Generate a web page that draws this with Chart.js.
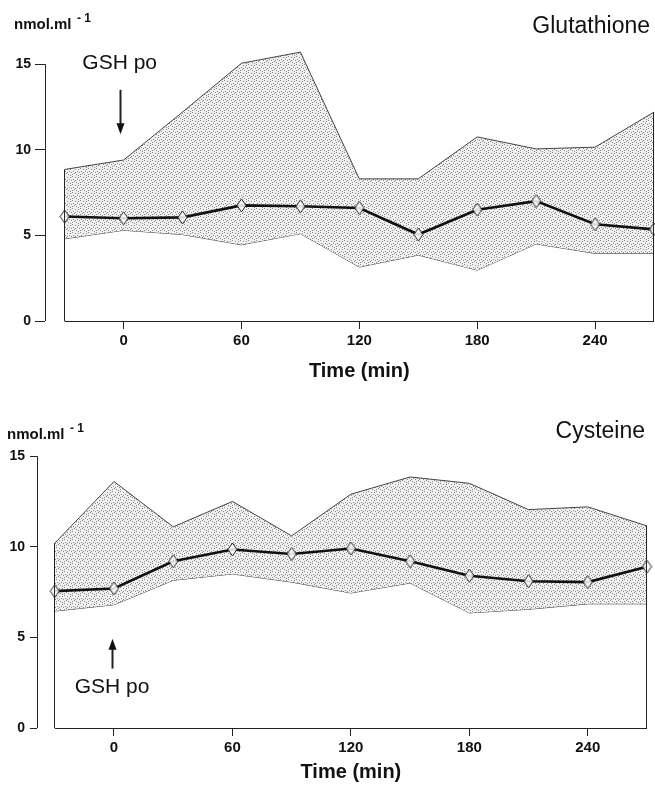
<!DOCTYPE html>
<html>
<head>
<meta charset="utf-8">
<script src="https://cdn.jsdelivr.net/npm/chart.js@4.4.1/dist/chart.umd.min.js"></script>
<style>
  html, body { margin: 0; padding: 0; background: #fff; }
  canvas { display: block; position: absolute; left: 0; }
  #gsh { top: 0; }
  #cys { top: 395px; }
</style>
</head>
<body>
<canvas id="gsh" width="655" height="395"></canvas>
<canvas id="cys" width="655" height="396"></canvas>
<script>
// time points (min) and axis ticks
const times = [-30, 0, 30, 60, 90, 120, 150, 180, 210, 240, 270];
const xTicks = [0, 60, 120, 180, 240];
const yTicks = [0, 5, 10, 15];

// glutathione, nmol/ml
const gshMean  = [6.1, 6.0, 6.05, 6.75, 6.7, 6.6, 5.05, 6.5, 7.0, 5.65, 5.35];
const gshUpper = [8.85, 9.4, 12.2, 15.05, 15.7, 8.3, 8.3, 10.75, 10.05, 10.15, 12.2];
const gshLower = [4.8, 5.3, 5.05, 4.45, 5.1, 3.15, 3.85, 2.97, 4.5, 3.95, 3.95];

// cysteine, nmol/ml
const cysMean  = [7.55, 7.7, 9.2, 9.85, 9.6, 9.9, 9.2, 8.4, 8.1, 8.05, 8.9];
const cysUpper = [10.2, 13.6, 11.1, 12.5, 10.6, 12.9, 13.85, 13.5, 12.05, 12.2, 11.15];
const cysLower = [6.45, 6.8, 8.15, 8.5, 8.05, 7.45, 8.0, 6.35, 6.55, 6.85, 6.85];

// stippled grey fill for the range band
function stipple() {
  const c = document.createElement('canvas');
  c.width = 8; c.height = 8;
  const g = c.getContext('2d');
  g.fillStyle = '#f1f1f1';
  g.fillRect(0, 0, 8, 8);
  g.fillStyle = '#8a8a8a';
  [[0,0],[3,1],[6,1],[1,3],[5,3],[7,4],[2,5],[4,6],[0,6],[6,7],[3,4]].forEach(([x, y]) => g.fillRect(x, y, 1, 1));
  return g.createPattern(c, 'repeat');
}

// narrow hollow diamond marker
function diamond() {
  const c = document.createElement('canvas');
  c.width = 11; c.height = 15;
  const g = c.getContext('2d');
  g.beginPath();
  g.moveTo(5.5, 1); g.lineTo(10, 7.5); g.lineTo(5.5, 14); g.lineTo(1, 7.5); g.closePath();
  g.fillStyle = 'rgba(255,255,255,0.85)';
  g.fill();
  g.strokeStyle = '#222';
  g.lineWidth = 1;
  g.stroke();
  return c;
}

const pts = arr => arr.map((v, i) => ({ x: times[i], y: v }));

// axis lines, band edges and the text around each panel
const panelPlugin = {
  id: 'panel',
  afterDraw(chart, args, o) {
    const { ctx, chartArea, scales: { x, y } } = chart;
    ctx.save();
    ctx.strokeStyle = '#222';
    ctx.lineWidth = 1;

    // y axis from 0 to 15 only
    ctx.beginPath();
    ctx.moveTo(chartArea.left + 0.5, y.getPixelForValue(yTicks[0]));
    ctx.lineTo(chartArea.left + 0.5, y.getPixelForValue(yTicks[yTicks.length - 1]));
    ctx.stroke();

    // x axis starts at the first time point
    const y0 = y.getPixelForValue(0);
    ctx.beginPath();
    ctx.moveTo(x.getPixelForValue(times[0]), y0 + 0.5);
    ctx.lineTo(chartArea.right, y0 + 0.5);
    ctx.stroke();

    // closing edges of the band
    const upper = chart.data.datasets[1].data;
    [0, upper.length - 1].forEach(i => {
      const px = Math.round(x.getPixelForValue(upper[i].x)) - 0.5;
      ctx.beginPath();
      ctx.moveTo(px, y.getPixelForValue(upper[i].y));
      ctx.lineTo(px, y0);
      ctx.stroke();
    });

    ctx.fillStyle = '#111';
    ctx.textBaseline = 'alphabetic';

    // unit label
    ctx.textAlign = 'left';
    ctx.font = 'bold 15px "Liberation Sans", Arial, sans-serif';
    ctx.fillText('nmol.ml', o.unit.x, o.unit.y);
    ctx.font = 'bold 12px "Liberation Sans", Arial, sans-serif';
    ctx.fillText('- 1', o.unit.x + 63, o.unit.y - 7);

    // panel title
    ctx.textAlign = 'right';
    ctx.font = '23px "Liberation Sans", Arial, sans-serif';
    ctx.fillText(o.title, o.titleRight, o.titleY);

    // dosing arrow
    const ax = Math.round(x.getPixelForValue(o.arrow.x)) + 0.5;
    const from = y.getPixelForValue(o.arrow.from);
    const to = y.getPixelForValue(o.arrow.to);
    const dir = Math.sign(to - from);
    ctx.lineWidth = 2;
    ctx.beginPath();
    ctx.moveTo(ax, from);
    ctx.lineTo(ax, to - dir * 8);
    ctx.stroke();
    ctx.beginPath();
    ctx.moveTo(ax, to);
    ctx.lineTo(ax - 4, to - dir * 11);
    ctx.lineTo(ax + 4, to - dir * 11);
    ctx.closePath();
    ctx.fill();

    ctx.textAlign = 'center';
    ctx.font = '21px "Liberation Sans", Arial, sans-serif';
    ctx.fillText('GSH po', x.getPixelForValue(o.arrow.labelX), y.getPixelForValue(o.arrow.labelY));

    // x axis title, centred on the drawn axis
    ctx.font = 'bold 20px "Liberation Sans", Arial, sans-serif';
    const cx = (x.getPixelForValue(times[0]) + chartArea.right) / 2;
    ctx.fillText('Time (min)', cx, o.xTitleY);
    ctx.restore();
  }
};

function makeChart(id, mean, upper, lower, opt) {
  const cfg = {
    type: 'line',
    data: {
      datasets: [
        { data: pts(mean), borderColor: '#111', borderWidth: 2.6, pointStyle: diamond(),
          pointRadius: 6, fill: false, clip: false },
        { data: pts(upper), borderColor: '#444', borderWidth: 1, pointRadius: 0,
          fill: '+1', backgroundColor: stipple(), clip: false },
        { data: pts(lower), borderColor: '#444', borderWidth: 1, pointRadius: 0,
          fill: false, clip: false }
      ]
    },
    options: {
      responsive: false,
      animation: false,
      layout: { padding: opt.padding, autoPadding: false },
      plugins: {
        legend: { display: false },
        tooltip: { enabled: false },
        panel: opt.panel
      },
      scales: {
        x: {
          type: 'linear',
          min: opt.xMin,
          max: 270,
          afterBuildTicks: s => { s.ticks = xTicks.map(v => ({ value: v })); },
          border: { display: false },
          grid: { drawOnChartArea: false, tickLength: 8, color: '#222' },
          ticks: {
            color: '#111', padding: 3, maxRotation: 0,
            font: { family: '"Liberation Sans", Arial', weight: 'bold', size: 15 }
          }
        },
        y: {
          min: 0,
          max: 16,
          afterBuildTicks: s => { s.ticks = yTicks.map(v => ({ value: v })); },
          afterFit: s => { s.width = opt.yWidth; },
          border: { display: false },
          grid: { drawOnChartArea: false, tickLength: opt.yTick, color: '#222' },
          ticks: {
            color: '#111', padding: opt.yPad,
            font: { family: '"Liberation Sans", Arial', weight: 'bold', size: 14 }
          }
        }
      }
    },
    plugins: [panelPlugin]
  };
  return new Chart(document.getElementById(id), cfg);
}

makeChart('gsh', gshMean, gshUpper, gshLower, {
  padding: { top: 47, bottom: 42, left: 15, right: 1 },
  xMin: -40, yWidth: 30, yTick: 10, yPad: 4,
  panel: {
    title: 'Glutathione', titleRight: 650, titleY: 33,
    unit: { x: 14, y: 29 },
    arrow: { x: -2, from: 13.5, to: 10.9, labelX: -2, labelY: 14.7 },
    xTitleY: 377
  }
});

makeChart('cys', cysMean, cysUpper, cysLower, {
  padding: { top: 43, bottom: 31, left: 9, right: 8 },
  xMin: -39, yWidth: 28, yTick: 7, yPad: 5,
  panel: {
    title: 'Cysteine', titleRight: 645, titleY: 43,
    unit: { x: 7, y: 44 },
    arrow: { x: -1, from: 3.28, to: 4.93, labelX: -1, labelY: 1.92 },
    xTitleY: 383
  }
});
</script>
</body>
</html>
